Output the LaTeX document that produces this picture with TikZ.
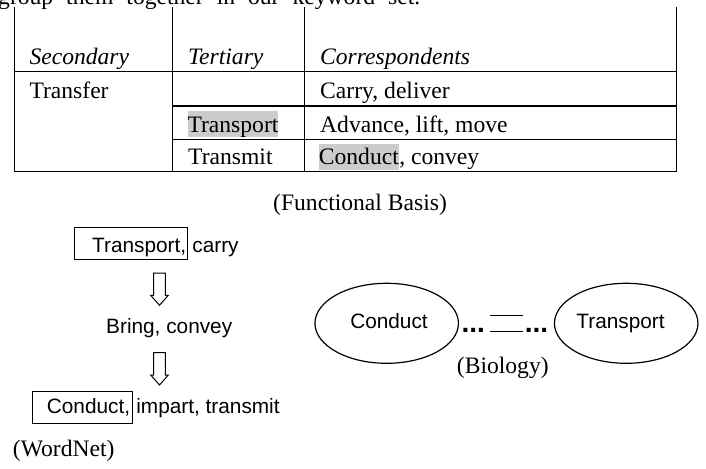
\documentclass[tikz,border=0pt]{standalone}
\usepackage{fontspec}
\setmainfont{Liberation Serif}
\setsansfont{Liberation Sans}
\usetikzlibrary{shapes.geometric}
\definecolor{hlgray}{RGB}{204,204,204}
\newcommand\srfsz{\fontsize{23.6}{28}\selectfont}
\newcommand\snssz{\sffamily\fontsize{20.8}{25}\selectfont}
\begin{document}
\begin{tikzpicture}[x=1pt,y=-1pt,
  serif/.style={font=\srfsz, inner sep=0pt, anchor=base west},
  serifit/.style={font=\srfsz\itshape, inner sep=0pt, anchor=base west},
  sans/.style={font=\snssz, inner sep=0pt, anchor=base west},
  tline/.style={line width=1.4pt},
  hl/.style={fill=hlgray, text height=21pt, text depth=5.1pt},
  wbox/.style={draw, line width=1pt, inner sep=0pt},
  oval/.style={draw, ellipse, line width=1.2pt, minimum width=143.5pt, minimum height=80pt, inner sep=0pt},
  dotsty/.style={font=\sffamily\bfseries\fontsize{28}{30}\selectfont, inner sep=0pt, anchor=base west},
  eqline/.style={line width=1.3pt},
  downarrow/.pic={\draw[line width=1pt, line join=miter] (-5.8,0) -- (-5.8,22.3) -- (-8.8,22.3) -- (0,32.3) -- (8.8,22.3) -- (5.8,22.3) -- (5.8,0) -- cycle;}
]
\useasboundingbox (0,0) rectangle (706,468);

% cut-off line of running text (justified, wide spaces)
\node[serif] (top) at (-2,5) {\spaceskip=13pt\relax group them together in our keyword set.};

% table rules
\draw[tline] (14.7,7) -- (14.7,171.3) -- (676.7,171.3) -- (676.7,7);
\draw[tline] (14.7,71.3) -- (676.7,71.3);
\draw[tline] (172.7,106) -- (676.7,106);
\draw[tline] (172.7,139.3) -- (676.7,139.3);
\draw[tline] (172.7,7) -- (172.7,171.3);
\draw[tline] (304.7,7) -- (304.7,171.3);

% table text
\node[serifit] (hsec) at (29.3,65) {Secondary};
\node[serifit] (hter) at (188,65) {Tertiary};
\node[serifit] (hcor) at (320,65) {Correspondents};
\node[serif] (transfer) at (29.3,99) {Transfer};
\node[serif] (carry) at (320,99) {Carry, deliver};
\node[serif,hl] (ttransport) at (187.3,132) {Transport};
\node[serif] (advance) at (320,132) {Advance, lift, move};
\node[serif] (transmit) at (188,164.5) {Transmit};
\node[serif,hl] (tconduct) at (318.7,164.5) {Conduct};
\node[serif] (tconvey) at (tconduct.base east) {, convey};

\node[serif] (fb) at (273,210) {(Functional Basis)};

% WordNet chain
\node[wbox, minimum width=113.3pt, minimum height=32.6pt, anchor=north west] (tbox) at (74,226.7) {};
\node[sans] (tw) at (92,252.5) {Transport,};
\node[sans] (tc) at ([xshift=5.8pt]tw.base east) {carry};
\coordinate (a1) at (159.5,273);
\pic at (a1) {downarrow};
\node[sans] (bring) at (106,333.3) {Bring, convey};
\coordinate (a2) at (159.5,352.7);
\pic at (a2) {downarrow};
\node[wbox, minimum width=100pt, minimum height=32pt, anchor=north west] (cbox) at (31.7,390.7) {};
\node[sans] (cw) at (46.7,413.5) {Conduct,};
\node[sans] (ci) at ([xshift=5.8pt]cw.base east) {impart, transmit};
\node[serif] (wn) at (12.7,456.5) {(WordNet)};

% Biology
\node[oval] (ec) at (386.7,323.3) {};
\node[sans, anchor=base] (ect) at (389,328.5) {Conduct};
\node[oval] (et) at (626.2,323.3) {};
\node[sans, anchor=base] (ett) at (620.5,328.5) {Transport};
\node[dotsty] (d1) at (461.3,332) {...};
\node[dotsty] (d2) at (524.7,332) {...};
\draw[eqline] (490,315.7) -- (523.3,315.7);
\draw[eqline] (490,331.7) -- (523.3,331.7);
\node[serif] (bio) at (456.7,373.3) {(Biology)};
\end{tikzpicture}
\end{document}
